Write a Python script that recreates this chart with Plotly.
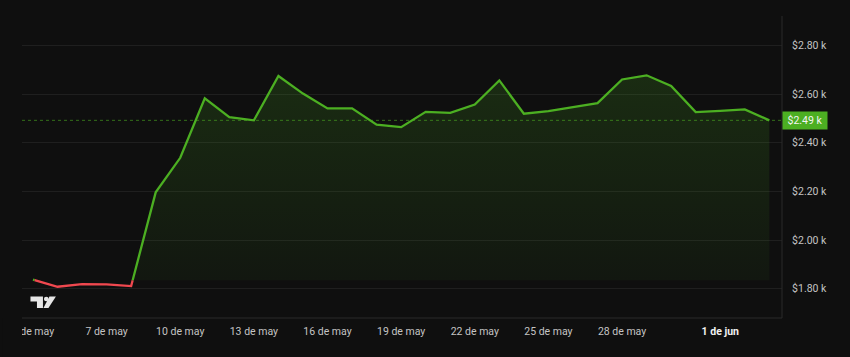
import numpy as np
import pandas as pd
import plotly.graph_objects as go

# ---------------- data ----------------
dates = pd.date_range("2024-05-04", periods=31, freq="D")
prices = [1837, 1808, 1819, 1818, 1811, 2196, 2338, 2582, 2505, 2492,
          2674, 2602, 2541, 2541, 2474, 2464, 2527, 2523, 2557, 2656,
          2519, 2530, 2546, 2563, 2660, 2677, 2633, 2526, 2531, 2537, 2492]
baseline = 1835

x_tick_dates = ["2024-05-04", "2024-05-07", "2024-05-10", "2024-05-13",
                "2024-05-16", "2024-05-19", "2024-05-22", "2024-05-25",
                "2024-05-28", "2024-06-01"]
x_tick_labels = ["4 de may", "7 de may", "10 de may", "13 de may",
                 "16 de may", "19 de may", "22 de may", "25 de may",
                 "28 de may", "<b><span style='color:#f2f2f2'>1 de jun</span></b>"]
y_tick_values = [1800, 2000, 2200, 2400, 2600, 2800]
y_tick_labels = ["$1.80 k", "$2.00 k", "$2.20 k", "$2.40 k", "$2.60 k", "$2.80 k"]

# ---------------- style ----------------
BG = "#0f0f0f"
GREEN = "#4caf22"
RED = "#f0484f"
TXT = "#c4c4c4"
FONT = "Roboto"

W, H = 850, 357
ML, MR, MT, MB = 20, 68, 16, 39
PW, PH = W - ML - MR, H - MT - MB

# split the series into runs above / below the baseline
t = dates.astype("int64").to_numpy().astype(float)
y = np.array(prices, dtype=float)
runs = []
cur = [(t[0], y[0])]
up = y[0] >= baseline
for i in range(len(y) - 1):
    nxt = y[i + 1] >= baseline
    if nxt != up:
        f = (baseline - y[i]) / (y[i + 1] - y[i])
        tc = t[i] + f * (t[i + 1] - t[i])
        cur.append((tc, baseline))
        runs.append((up, cur))
        cur = [(tc, baseline)]
        up = nxt
    cur.append((t[i + 1], y[i + 1]))
runs.append((up, cur))


def to_dt(vals):
    return pd.to_datetime(np.array(vals).astype("int64"))


fig = go.Figure()

# fills for the above-baseline runs
for is_up, pts in runs:
    if not is_up:
        continue
    xs = [p[0] for p in pts]
    ys = [p[1] for p in pts]
    fx = to_dt(xs + [xs[-1], xs[0]])
    fy = ys + [baseline, baseline]
    fig.add_trace(go.Scatter(
        x=fx, y=fy, mode="lines", fill="toself",
        line=dict(width=0, color="rgba(0,0,0,0)"),
        fillgradient=dict(type="vertical",
                          colorscale=[[0, "rgba(76,175,34,0.05)"],
                                      [1, "rgba(76,175,34,0.2)"]],
                          start=baseline, stop=2800),
        hoverinfo="skip", showlegend=False))

# lines
for is_up, pts in runs:
    xs = [p[0] for p in pts]
    ys = [p[1] for p in pts]
    fig.add_trace(go.Scatter(
        x=to_dt(xs), y=ys, mode="lines",
        line=dict(width=2.3, color=GREEN if is_up else RED),
        showlegend=False, hoverinfo="skip"))

# x range in pixels -> dates
day_px = 24.61
first_px = 31.0
day_ns = 86400e9
x0 = t[0] - (first_px - ML) / day_px * day_ns
x1 = t[0] + (ML + PW - first_px) / day_px * day_ns

last = prices[-1]

shapes = [
    # last price dotted line
    dict(type="line", xref="paper", yref="y", x0=0, x1=1, y0=last, y1=last,
         line=dict(color="rgba(76,175,34,0.6)", width=1, dash="dot"), layer="above"),
    # right axis separator
    dict(type="line", xref="paper", yref="paper", x0=1, x1=1, y0=0, y1=1,
         line=dict(color="#2b2b2b", width=1)),
    # bottom axis separator
    dict(type="line", xref="paper", yref="paper", x0=0, x1=1, y0=0, y1=0,
         line=dict(color="#2b2b2b", width=1)),
    # clip first tick label at the left pane edge
    dict(type="rect", xref="paper", yref="paper", x0=-ML / PW, x1=0,
         y0=-MB / PH, y1=0, fillcolor=BG, line=dict(width=0), layer="above"),
]


def px2paper(px, py):
    return (px - ML) / PW, (MT + PH - py) / PH


def poly(points):
    s = ""
    for k, (a, b) in enumerate(points):
        xp, yp = px2paper(a, b)
        s += ("M" if k == 0 else "L") + f"{xp:.5f},{yp:.5f}"
    return s + "Z"


LOGO = "#e6e6e6"
logo_paths = [
    poly([(28.5, 296.5), (41, 296.5), (41, 308), (35, 308), (35, 301.5), (28.5, 301.5)]),
    poly([(47.5, 296.5), (54, 296.5), (46.5, 308), (41.5, 308)]),
]
for p in logo_paths:
    shapes.append(dict(type="path", xref="paper", yref="paper", path=p,
                       fillcolor=LOGO, line=dict(width=0), layer="above"))
cx, cy = px2paper(44.3, 299.0)
rx, ry = 2.3 / PW, 2.3 / PH
shapes.append(dict(type="circle", xref="paper", yref="paper",
                   x0=cx - rx, x1=cx + rx, y0=cy - ry, y1=cy + ry,
                   fillcolor=LOGO, line=dict(width=0), layer="above"))

fig.update_layout(
    width=W, height=H,
    margin=dict(l=ML, r=MR, t=MT, b=MB),
    paper_bgcolor=BG, plot_bgcolor=BG,
    font=dict(family=FONT, size=10.5, color=TXT),
    showlegend=False,
    shapes=shapes,
    xaxis=dict(type="date", range=[to_dt([x0])[0], to_dt([x1])[0]],
               tickvals=pd.to_datetime(x_tick_dates), ticktext=x_tick_labels,
               showgrid=False, zeroline=False, showline=False,
               ticks="outside", ticklen=3, tickcolor="rgba(0,0,0,0)",
               tickfont=dict(family=FONT, size=10.5, color=TXT)),
    yaxis=dict(side="right", range=[1679.6, 2920.8],
               tickvals=y_tick_values, ticktext=y_tick_labels,
               showgrid=True, gridcolor="#1f1f1f", gridwidth=1,
               zeroline=False, showline=False,
               ticks="outside", ticklen=7, tickcolor="rgba(0,0,0,0)",
               tickfont=dict(family=FONT, size=10.5, color=TXT)),
    annotations=[dict(
        xref="paper", yref="y", x=1, y=last, xanchor="left", yanchor="middle",
        text=f"${last / 1000:.2f} k", showarrow=False,
        font=dict(family=FONT, size=10.5, color="#f4f4f4"),
        bgcolor=GREEN, borderpad=2, width=40, align="center")],
)

fig.write_html("out.html")
